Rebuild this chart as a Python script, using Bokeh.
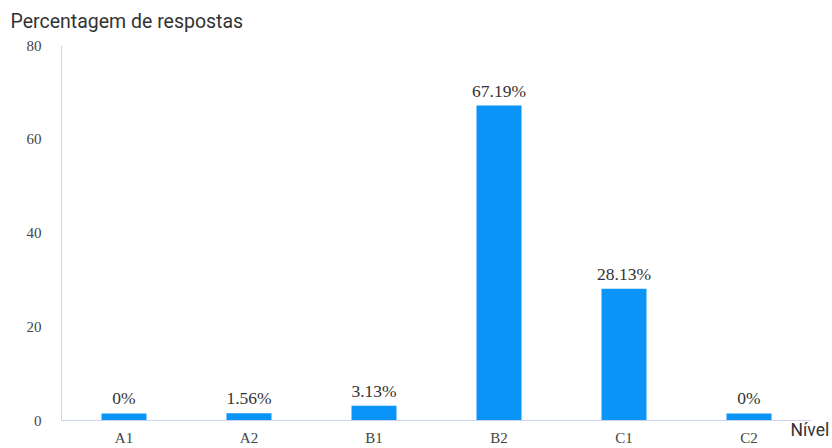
from bokeh.plotting import figure
from bokeh.models import ColumnDataSource, Range1d, FixedTicker, Label
from bokeh.core.properties import value
from bokeh.embed import file_html
from bokeh.resources import INLINE

categories = ["A1", "A2", "B1", "B2", "C1", "C2"]
percentages = [0, 1.56, 3.13, 67.19, 28.13, 0]
labels = ["0%", "1.56%", "3.13%", "67.19%", "28.13%", "0%"]
y_ticks = [0, 20, 40, 60, 80]
title_text = "Percentagem de respostas"
x_title = "Nível"

MIN_BAR = 1.5  # minimum visible bar height (style)
shown = [max(v, MIN_BAR) for v in percentages]
xpos = [i + 0.5 for i in range(len(categories))]

src = ColumnDataSource(dict(x=xpos, val=percentages, top=shown, lab=labels))

# frame covers whole canvas; axes are pinned at 0 so layout matches reference
p = figure(width=832, height=448,
           x_range=Range1d(-61 / 125, 771 / 125), y_range=Range1d(-28 / 4.6875, 80 + 45 / 4.6875),
           output_backend="svg", toolbar_location=None,
           min_border_left=0, min_border_right=0, min_border_top=0, min_border_bottom=0)
p.outline_line_color = None
p.background_fill_color = "white"
p.border_fill_color = "white"
p.xgrid.grid_line_color = None
p.ygrid.grid_line_color = None

p.vbar(x="x", top="top", bottom=0, width=0.36, source=src, color="#0A94F7", line_color=None)
p.text(x="x", y="top", text="lab", source=src, text_align="center", text_baseline="bottom",
       y_offset=-5, text_font=value("Liberation Serif"), text_font_size="17.5px", text_color="#333333")

p.yaxis.ticker = FixedTicker(ticks=y_ticks)
p.yaxis.bounds = (0, 80)
p.yaxis.fixed_location = 0
p.xaxis.ticker = FixedTicker(ticks=xpos)
p.xaxis.major_label_overrides = {x: c for x, c in zip(xpos, categories)}
p.xaxis.bounds = (0, len(categories))
p.xaxis.fixed_location = 0
for ax in (p.xaxis[0], p.yaxis[0]):
    ax.axis_line_color = "#ccd6eb"
    ax.major_tick_line_color = None
    ax.minor_tick_line_color = None
    ax.major_label_text_font = "Liberation Serif"
    ax.major_label_text_font_size = "15px"
    ax.major_label_text_color = "#444444"
p.yaxis.major_label_standoff = 14
p.xaxis.major_label_standoff = 3

p.add_layout(Label(x=-51 / 125, y=399 / 4.6875, text=title_text, text_font="Roboto",
                   text_font_size="19.5px", text_color="#333333",
                   text_baseline="middle", text_align="left"))
p.add_layout(Label(x=729 / 125, y=-9 / 4.6875, text=x_title, text_font="Roboto",
                   text_font_size="17.5px", text_color="#333333",
                   text_baseline="middle", text_align="left"))

open("out.html", "w").write(file_html(p, INLINE))
